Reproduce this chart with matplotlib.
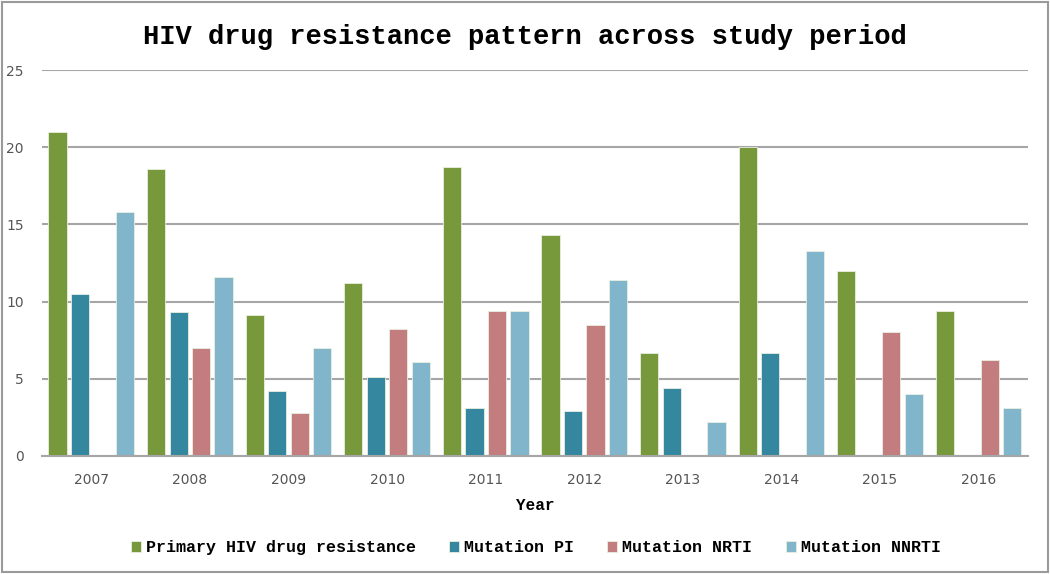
import matplotlib.pyplot as plt
import numpy as np
from matplotlib.patches import Rectangle

years = ["2007", "2008", "2009", "2010", "2011", "2012", "2013", "2014", "2015", "2016"]
primary = [21.0, 18.6, 9.1, 11.2, 18.7, 14.3, 6.7, 20.0, 12.0, 9.4]
mut_pi = [10.5, 9.3, 4.2, 5.1, 3.1, 2.9, 4.4, 6.7, 0, 0]
mut_nrti = [0, 7.0, 2.8, 8.2, 9.4, 8.5, 0, 0, 8.0, 6.2]
mut_nnrti = [15.8, 11.6, 7.0, 6.1, 9.4, 11.4, 2.2, 13.3, 4.0, 3.1]

series = [
    ("Primary HIV drug resistance", primary, "#77983b"),
    ("Mutation PI", mut_pi, "#34879f"),
    ("Mutation NRTI", mut_nrti, "#c47d7f"),
    ("Mutation NNRTI", mut_nnrti, "#80b5cc"),
]

mono = "Liberation Mono"

fig = plt.figure(figsize=(10.5, 5.74), dpi=100)
ax = fig.add_axes([0.04, 0.2056, 0.939, 0.6724])

x = np.arange(len(years))
step = 0.228
width = 0.185
for i, (name, vals, col) in enumerate(series):
    ax.bar(x + (i - 1.5) * step, vals, width, color=col, label=name,
           edgecolor="#e8efe0", linewidth=0.6, zorder=3)

ax.set_xlim(-0.5, len(years) - 0.5)
ax.set_ylim(0, 25)
ax.set_yticks([0, 5, 10, 15, 20, 25])
ax.yaxis.grid(True, color="#a6a6a6", linewidth=1.5, zorder=0)
ax.set_axisbelow(True)
for s in ["top", "right", "left"]:
    ax.spines[s].set_visible(False)
ax.spines["bottom"].set_color("#a6a6a6")
ax.spines["bottom"].set_linewidth(1.5)
ax.spines["bottom"].set_zorder(4)
ax.tick_params(axis="both", length=0, labelsize=10, labelcolor="#555555")
ax.tick_params(axis="y", pad=13)
ax.tick_params(axis="x", pad=12)
ax.set_xticks(x)
ax.set_xticklabels(years)

ax.set_xlabel("Year", fontfamily=mono, fontweight="bold", fontsize=11.5, labelpad=8)

fig.text(0.5, 0.936, "HIV drug resistance pattern across study period",
         ha="center", va="center", fontfamily=mono, fontweight="bold", fontsize=19.5)

leg = fig.legend(loc="center", bbox_to_anchor=(0.51, 0.046), ncol=4, frameon=False,
                 prop={"family": mono, "weight": "bold", "size": 12},
                 handlelength=0.6, handleheight=0.6, handletextpad=0.3, columnspacing=2.0)

fig.patches.append(Rectangle((0.002, 0.004), 0.996, 0.992, transform=fig.transFigure,
                             fill=False, edgecolor="#9a9a9a", linewidth=1.5))

fig.savefig("out.png", dpi=100)
